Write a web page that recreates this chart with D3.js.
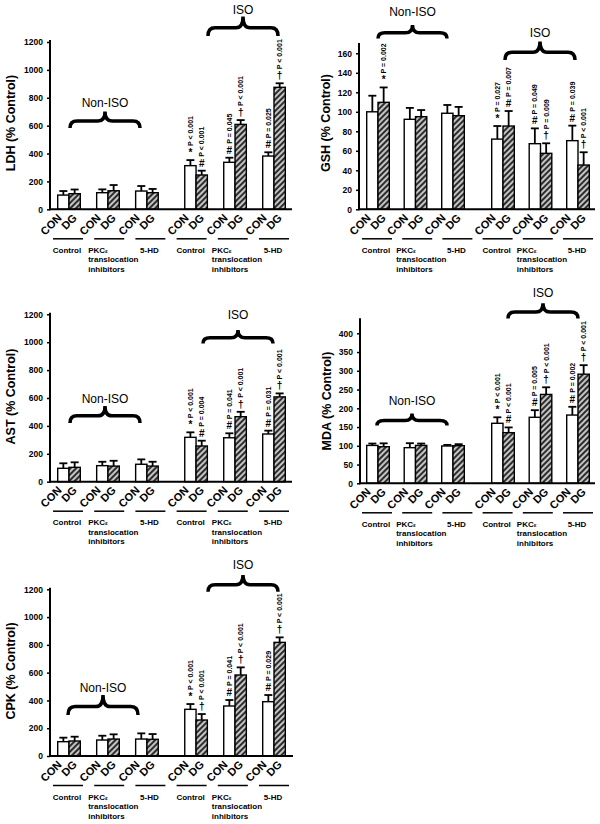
<!DOCTYPE html>
<html><head><meta charset="utf-8">
<script src="https://cdn.jsdelivr.net/npm/d3@7"></script>
<style>
body{margin:0;background:#fff}
svg{display:block}
text{font-family:"Liberation Sans",Arial,Helvetica,sans-serif;fill:#000}
</style>
</head><body>
<svg id="chart" width="600" height="824"></svg>
<script>
// ---------- data ----------
const barLabels = ["CON", "DG"];
const groupLabels = [["Control"], ["PKCε", "translocation", "inhibitors"], ["5-HD"],
                     ["Control"], ["PKCε", "translocation", "inhibitors"], ["5-HD"]];
const treatmentLabels = ["Non-ISO", "ISO"];

const bigTicks = [0, 200, 400, 600, 800, 1000, 1200];
const gshTicks = [0, 20, 40, 60, 80, 100, 120, 140, 160];
const mdaTicks = [0, 50, 100, 150, 200, 250, 300, 350, 400];

const ldhCON = [102, 119, 131, 313, 337, 382];
const ldhCONerr = [29, 24, 36, 40, 33, 27];
const ldhDG = [112, 133, 119, 246, 609, 875];
const ldhDGerr = [30, 41, 27, 31, 31, 29];
const ldhSymCON = ["", "", "", "*", "#", "#"];
const ldhPCON = ["", "", "", "P < 0.001", "P = 0.045", "P = 0.025"];
const ldhSymDG = ["", "", "", "#", "†", "†"];
const ldhPDG = ["", "", "", "P < 0.001", "P < 0.001", "P < 0.001"];

const gshCON = [100, 92.3, 98.5, 72, 67.3, 70.4];
const gshCONerr = [16.5, 11.7, 8.5, 13.4, 15.7, 15.4];
const gshDG = [109.7, 95, 96, 85.4, 57.4, 45.4];
const gshDGerr = [15.3, 6.8, 9, 15.4, 10.3, 13.1];
const gshSymCON = ["", "", "", "*", "#", "#"];
const gshPCON = ["", "", "", "P = 0.027", "P = 0.049", "P = 0.039"];
const gshSymDG = ["*", "", "", "#", "†", "†"];
const gshPDG = ["P = 0.002", "", "", "P = 0.007", "P = 0.009", "P < 0.001"];

const astCON = [96, 115, 125, 318, 315, 342];
const astCONerr = [36, 28, 35, 36, 32, 24];
const astDG = [103, 112, 112, 256, 466, 608];
const astDGerr = [36, 38, 31, 38, 35, 25];
const astSymCON = ["", "", "", "*", "#", "#"];
const astPCON = ["", "", "", "P < 0.001", "P = 0.041", "P = 0.031"];
const astSymDG = ["", "", "", "#", "†", "†"];
const astPDG = ["", "", "", "P = 0.004", "P < 0.001", "P < 0.001"];

const mdaCON = [101, 95, 99.5, 160, 176, 182];
const mdaCONerr = [5, 12, 3, 16, 19, 22];
const mdaDG = [97.6, 101, 100.3, 135, 237, 291];
const mdaDGerr = [9, 5, 4, 14, 19, 24];
const mdaSymCON = ["", "", "", "*", "#", "#"];
const mdaPCON = ["", "", "", "P < 0.001", "P = 0.005", "P = 0.002"];
const mdaSymDG = ["", "", "", "#", "†", "†"];
const mdaPDG = ["", "", "", "P < 0.001", "P < 0.001", "P < 0.001"];

const cpkCON = [103, 115, 122, 336, 360, 391];
const cpkCONerr = [29, 31, 41, 38, 43, 48];
const cpkDG = [108, 122, 120, 259, 583, 818];
const cpkDGerr = [31, 34, 38, 43, 55, 36];
const cpkSymCON = ["", "", "", "*", "#", "#"];
const cpkPCON = ["", "", "", "P < 0.001", "P = 0.041", "P = 0.029"];
const cpkSymDG = ["", "", "", "†", "†", "†"];
const cpkPDG = ["", "", "", "P < 0.001", "P < 0.001", "P < 0.001"];

// ---------- layout ----------
const panels = [
  {title: "LDH (% Control)", con: ldhCON, conErr: ldhCONerr, dg: ldhDG, dgErr: ldhDGerr,
   symCon: ldhSymCON, pCon: ldhPCON, symDg: ldhSymDG, pDg: ldhPDG, ticks: bigTicks,
   L: {axisX: 50, axisRight: 292, y0: 209.3, yTopPx: 42, yTopVal: 1200, axisTop: 40,
       c0: 69, c5: 274, gap: 0.26, labX: 10, labY: 123,
       braces: [{x1: 70, x2: 140, top: 111.5, bottom: 128, base: 107.3},
                {x1: 208, x2: 278, top: 16.5, bottom: 36, base: 14}]}},
  {title: "GSH (% Control)", con: gshCON, conErr: gshCONerr, dg: gshDG, dgErr: gshDGerr,
   symCon: gshSymCON, pCon: gshPCON, symDg: gshSymDG, pDg: gshPDG, ticks: gshTicks,
   L: {axisX: 359, axisRight: 595, y0: 209.3, yTopPx: 53.3, yTopVal: 160, axisTop: 43,
       c0: 378, c5: 578, gap: 0.333, labX: 325, labY: 123,
       braces: [{x1: 378, x2: 447, top: 25, bottom: 38.5, base: 15.7},
                {x1: 505, x2: 575, top: 41.5, bottom: 60, base: 36.7}]}},
  {title: "AST (% Control)", con: astCON, conErr: astCONerr, dg: astDG, dgErr: astDGerr,
   symCon: astSymCON, pCon: astPCON, symDg: astSymDG, pDg: astPDG, ticks: bigTicks,
   L: {axisX: 50, axisRight: 292, y0: 481.7, yTopPx: 314.3, yTopVal: 1200, axisTop: 312.7,
       c0: 69, c5: 274, gap: 0.26, labX: 10, labY: 396.5,
       braces: [{x1: 70, x2: 140, top: 406, bottom: 423, base: 403.3},
                {x1: 203, x2: 273, top: 330, bottom: 343.5, base: 319.3}]}},
  {title: "MDA (% Control)", con: mdaCON, conErr: mdaCONerr, dg: mdaDG, dgErr: mdaDGerr,
   symCon: mdaSymCON, pCon: mdaPCON, symDg: mdaSymDG, pDg: mdaPDG, ticks: mdaTicks,
   L: {axisX: 360, axisRight: 595, y0: 483.3, yTopPx: 333.3, yTopVal: 400, axisTop: 318.3,
       c0: 378, c5: 578, gap: 0.333, labX: 326.7, labY: 401,
       braces: [{x1: 377, x2: 447, top: 413.5, bottom: 425.5, base: 405},
                {x1: 508, x2: 578, top: 303.3, bottom: 318.5, base: 297.3}]}},
  {title: "CPK (% Control)", con: cpkCON, conErr: cpkCONerr, dg: cpkDG, dgErr: cpkDGerr,
   symCon: cpkSymCON, pCon: cpkPCON, symDg: cpkSymDG, pDg: cpkPDG, ticks: bigTicks,
   L: {axisX: 50, axisRight: 293, y0: 756, yTopPx: 589.3, yTopVal: 1200, axisTop: 587.7,
       c0: 69, c5: 274, gap: 0.26, labX: 10, labY: 671,
       braces: [{x1: 68, x2: 138, top: 695, bottom: 715, base: 691.7},
                {x1: 208, x2: 278, top: 575, bottom: 591.7, base: 569.3}]}}
];

const svg = d3.select("#chart");

// hatch pattern
const defs = svg.append("defs");
const pat = defs.append("pattern").attr("id", "hatch")
  .attr("patternUnits", "userSpaceOnUse").attr("width", 4).attr("height", 4)
  .attr("patternTransform", "rotate(45)");
pat.append("rect").attr("width", 4).attr("height", 4).attr("fill", "#c4c4c4");
pat.append("line").attr("x1", 1).attr("y1", 0).attr("x2", 1).attr("y2", 4)
  .attr("stroke", "#111").attr("stroke-width", 1.7);

function bracePath(x1, x2, yt, yb) {
  const xm = (x1 + x2) / 2, ym = yt + 0.58 * (yb - yt), r = 7;
  return `M${x1},${yb} Q${x1},${ym} ${x1 + r},${ym} L${xm - r},${ym} Q${xm},${ym} ${xm},${yt}` +
         ` Q${xm},${ym} ${xm + r},${ym} L${x2 - r},${ym} Q${x2},${ym} ${x2},${yb}`;
}

panels.forEach(p => {
  const L = p.L;
  const g = svg.append("g");
  const y = d3.scaleLinear().domain([0, L.yTopVal]).range([L.y0, L.yTopPx]);
  const gx = d3.scaleLinear().domain([0, 5 + L.gap]).range([L.c0, L.c5]);
  const gpos = i => gx(i + (i >= 3 ? L.gap : 0));
  const ux = d3.scaleLinear().domain([0, 5]).range([L.c0 - 1, L.c5]);
  const sub = d3.scaleBand().domain(barLabels).range([-11.3, 11.3]);
  const bw = sub.bandwidth();

  const rows = [];
  d3.range(6).forEach(i => {
    rows.push({i, k: "CON", v: p.con[i], e: p.conErr[i], s: p.symCon[i], pt: p.pCon[i]});
    rows.push({i, k: "DG", v: p.dg[i], e: p.dgErr[i], s: p.symDg[i], pt: p.pDg[i]});
  });
  rows.forEach(d => { d.cx = gpos(d.i) + sub(d.k) + bw / 2; });

  // error bars
  const eb = g.selectAll(".eb").data(rows).enter().append("g");
  eb.append("line").attr("x1", d => d.cx).attr("x2", d => d.cx)
    .attr("y1", d => y(d.v)).attr("y2", d => y(d.v + d.e))
    .attr("stroke", "#000").attr("stroke-width", 1.8);
  eb.append("line").attr("x1", d => d.cx - 4).attr("x2", d => d.cx + 4)
    .attr("y1", d => y(d.v + d.e)).attr("y2", d => y(d.v + d.e))
    .attr("stroke", "#000").attr("stroke-width", 1.8);

  // bars
  g.selectAll(".bar").data(rows).enter().append("rect")
    .attr("x", d => gpos(d.i) + sub(d.k)).attr("width", bw)
    .attr("y", d => y(d.v)).attr("height", d => L.y0 - y(d.v))
    .attr("fill", d => d.k === "DG" ? "url(#hatch)" : "#fff")
    .attr("stroke", "#000").attr("stroke-width", 1.4);

  // significance symbols and p values
  rows.filter(d => d.s).forEach(d => {
    g.append("text").attr("x", d.cx).attr("y", y(d.v + d.e) - 4)
      .attr("text-anchor", "middle").attr("font-size", 10).attr("font-weight", "bold").text(d.s);
  });
  rows.filter(d => d.pt).forEach(d => {
    g.append("text").attr("transform", `translate(${d.cx + 2.5},${y(d.v + d.e) - 14}) rotate(-90)`)
      .attr("text-anchor", "start").attr("font-size", 7).attr("font-weight", "bold").text(d.pt);
  });

  // y axis
  const ax = g.append("g").attr("transform", `translate(${L.axisX},0)`)
    .call(d3.axisLeft(y).tickValues(p.ticks).tickSize(3).tickPadding(4).tickFormat(d3.format("d")));
  ax.select(".domain").remove();
  ax.selectAll(".tick line").attr("stroke", "#000").attr("stroke-width", 1.5);
  ax.selectAll(".tick text").attr("font-size", 8.5).attr("font-weight", "bold")
    .attr("font-family", "'Liberation Sans',Arial,sans-serif").attr("fill", "#000");
  g.append("line").attr("x1", L.axisX).attr("x2", L.axisX).attr("y1", L.y0 + 1).attr("y2", L.axisTop)
    .attr("stroke", "#000").attr("stroke-width", 2);
  g.append("line").attr("x1", L.axisX).attr("x2", L.axisRight).attr("y1", L.y0).attr("y2", L.y0)
    .attr("stroke", "#000").attr("stroke-width", 2);

  // y label
  g.append("text").attr("transform", `translate(${L.labX + 4.5},${L.labY}) rotate(-90)`)
    .attr("text-anchor", "middle").attr("font-size", 12.5).attr("font-weight", "bold").text(p.title);

  // CON / DG labels
  rows.forEach(d => {
    const dx = d.k === "CON" ? -1 : 3;
    g.append("text").attr("transform", `translate(${d.cx + dx},${L.y0 + 9.3}) rotate(-45)`)
      .attr("text-anchor", "end").attr("font-size", 11).attr("font-weight", "bold").text(d.k);
  });

  // group underlines and labels
  groupLabels.forEach((lines, i) => {
    const cx = ux(i);
    g.append("line").attr("x1", cx - 15).attr("x2", cx + 15)
      .attr("y1", L.y0 + 29.5).attr("y2", L.y0 + 29.5)
      .attr("stroke", "#000").attr("stroke-width", 1.5);
    const multi = lines.length > 1;
    lines.forEach((ln, j) => {
      const t = g.append("text")
        .attr("x", multi ? cx - 21 : cx - 1).attr("y", L.y0 + 43.5 + j * 9.5)
        .attr("text-anchor", multi ? "start" : "middle")
        .attr("font-size", 8).attr("font-weight", "bold");
      if (ln.endsWith("ε")) {
        t.append("tspan").text(ln.slice(0, -1));
        t.append("tspan").attr("font-size", 6).text("ε");
      } else t.text(ln);
    });
  });

  // braces
  L.braces.forEach((b, k) => {
    g.append("path").attr("d", bracePath(b.x1, b.x2, b.top, b.bottom))
      .attr("fill", "none").attr("stroke", "#000").attr("stroke-width", 3.5);
    g.append("text").attr("x", (b.x1 + b.x2) / 2).attr("y", b.base)
      .attr("text-anchor", "middle").attr("font-size", 12).text(treatmentLabels[k]);
  });
});
</script>
</body></html>
